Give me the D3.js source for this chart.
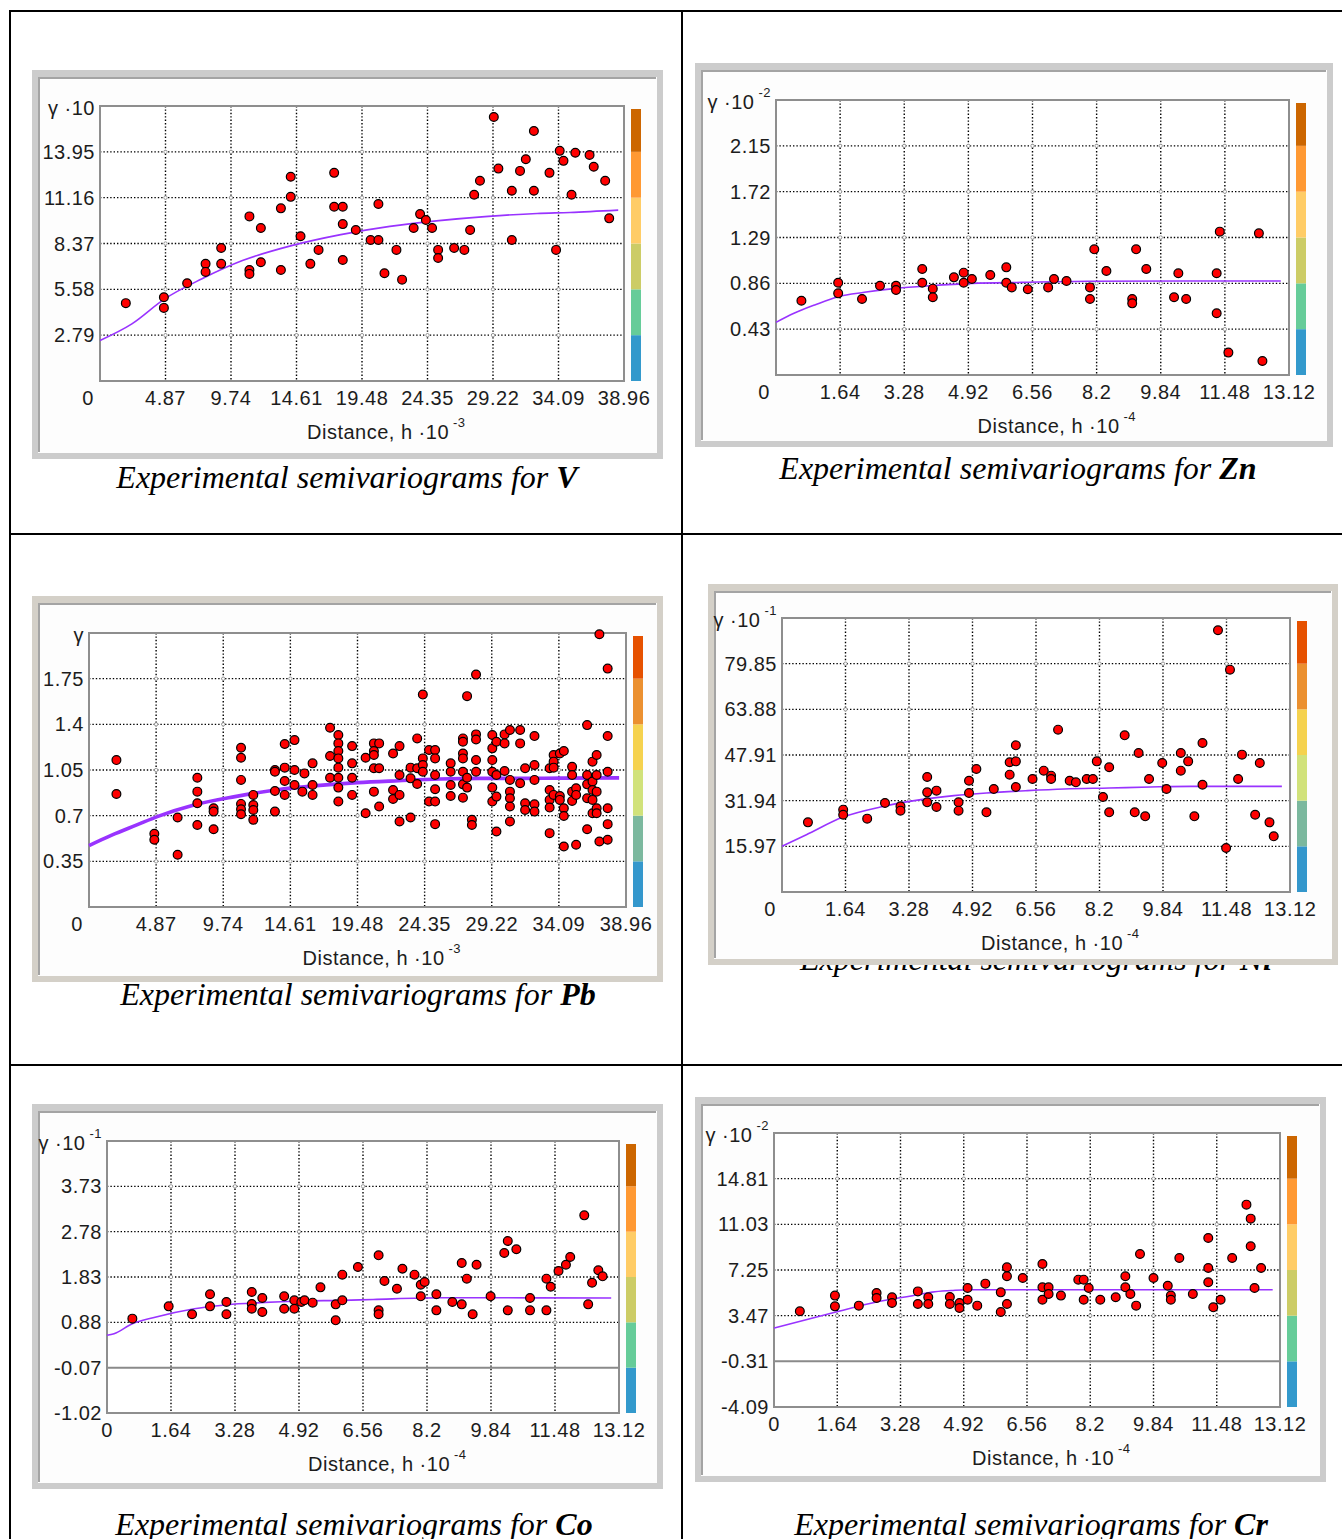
<!DOCTYPE html>
<html>
<head>
<meta charset="utf-8">
<script src="https://cdn.jsdelivr.net/npm/d3@7/dist/d3.min.js"></script>
<style>
  body { margin: 0; background: #fff; }
  svg text { font-family: "Liberation Sans", Arial, sans-serif; }
</style>
</head>
<body>
<svg id="chart"></svg>
<script>
// ---- tick labels ----
const xTicksLong = [0, 4.87, 9.74, 14.61, 19.48, 24.35, 29.22, 34.09, 38.96];
const xTicksShort = [0, 1.64, 3.28, 4.92, 6.56, 8.2, 9.84, 11.48, 13.12];

const vYTicks = [0, 2.79, 5.58, 8.37, 11.16, 13.95];
const znYTicks = [0, 0.43, 0.86, 1.29, 1.72, 2.15];
const pbYTicks = [0, 0.35, 0.7, 1.05, 1.4, 1.75];
const niYTicks = [0, 15.97, 31.94, 47.91, 63.88, 79.85];
const coYTicks = [-1.02, -0.07, 0.88, 1.83, 2.78, 3.73];
const crYTicks = [-4.09, -0.31, 3.47, 7.25, 11.03, 14.81];

// value at the top edge (where the gamma label sits)
const yTops = { V: 16.74, Zn: 2.58, Pb: 2.1, Ni: 95.82, Co: 4.68, Cr: 18.59 };

// ---- experimental semivariogram points [h, gamma] ----
const vPoints = [
  [1.92,4.74],[4.75,5.10],[4.75,4.45],[6.48,5.95],[7.85,7.13],[7.85,6.64],[9.01,8.10],[9.01,7.13],
  [11.11,10.02],[11.11,6.76],[11.11,6.52],[11.96,9.31],[11.96,7.23],[13.45,10.51],[13.45,6.76],
  [14.18,12.43],[14.18,11.21],[14.91,8.81],[16.25,7.98],[15.64,7.13],[17.41,12.67],[17.41,10.61],
  [18.05,10.61],[18.05,9.55],[18.05,7.37],[19.02,9.19],[20.12,8.58],[20.70,8.58],[20.70,10.77],
  [21.15,6.56],[22.04,7.98],[22.46,6.17],[23.32,9.31],[23.80,10.16],[24.23,9.80],[24.69,9.31],
  [25.14,7.98],[25.14,7.49],[26.33,8.10],[27.09,7.98],[27.52,9.19],[27.82,11.34],[28.25,12.19],
  [29.28,16.07],[29.62,12.93],[30.62,11.58],[30.62,8.58],[31.23,12.79],[31.66,13.50],[32.26,15.22],
  [32.26,11.58],[33.42,12.67],[33.91,7.98],[34.18,14.01],[34.46,13.40],[35.06,11.34],[35.34,13.89],
  [36.40,13.76],[36.71,13.04],[37.56,12.19],[37.86,9.90]
];
const znPoints = [
  [0.65,0.697],[1.59,0.866],[1.59,0.766],[2.20,0.713],[2.66,0.838],[3.07,0.838],[3.07,0.797],
  [3.74,0.994],[3.74,0.866],[4.01,0.810],[4.01,0.729],[4.55,0.916],[4.80,0.960],[4.80,0.866],
  [5.01,0.901],[5.48,0.938],[5.89,1.010],[5.89,0.866],[6.03,0.822],[6.44,0.804],[6.96,0.822],
  [7.11,0.901],[7.43,0.882],[8.03,0.822],[8.03,0.713],[8.14,1.179],[8.45,0.976],[9.11,0.713],
  [9.11,0.672],[9.21,1.179],[9.47,0.994],[10.18,0.729],[10.29,0.954],[10.49,0.713],[11.27,0.954],
  [11.27,0.579],[11.35,1.345],[11.57,0.210],[12.35,1.329],[12.44,0.131]
];
const pbPoints = [
  [1.99,1.126],[1.99,0.866],[4.74,0.561],[4.74,0.515],[6.43,0.686],[6.43,0.400],
  [7.86,0.991],[7.86,0.884],[7.86,0.795],[7.86,0.629],[9.04,0.757],[9.04,0.731],[9.04,0.596],
  [11.03,1.221],[11.03,1.144],[11.03,0.974],[11.03,0.790],[11.03,0.749],[11.03,0.711],
  [11.92,0.859],[11.92,0.782],[11.92,0.744],[11.92,0.668],
  [13.49,1.050],[13.49,1.037],[13.49,0.889],[13.49,0.731],
  [14.20,1.249],[14.20,1.068],[14.20,0.966],[14.20,0.859],
  [14.91,1.279],[14.91,1.050],[14.91,0.935],[15.63,1.024],[15.48,0.884],
  [16.22,1.101],[16.22,0.935],[16.22,0.859],[17.49,1.374],[17.49,1.157],[17.49,0.991],
  [18.09,1.318],[18.09,1.254],[18.09,1.195],[18.09,1.139],[18.09,1.068],[18.09,0.991],[18.09,0.915],[18.09,0.808],
  [19.09,1.233],[19.09,1.101],[19.09,0.991],[19.09,0.859],[20.07,1.144],[20.07,0.719],
  [20.67,1.254],[20.67,1.195],[20.67,1.165],[20.67,1.063],[20.67,0.884],
  [21.05,1.254],[21.05,1.063],[21.05,0.770],[22.06,1.177],[22.06,0.897],[22.06,0.828],
  [22.53,1.233],[22.53,1.012],[22.53,0.859],[22.53,0.655],[23.33,1.068],[23.33,0.986],[23.33,0.686],
  [23.81,1.292],[23.81,1.063],[23.81,0.943],[24.22,1.628],[24.22,1.139],[24.22,1.088],[24.22,1.037],
  [24.67,1.203],[24.67,0.808],
  [25.11,1.203],[25.11,1.139],[25.11,1.012],[25.11,0.902],[25.11,0.808],[25.11,0.635],
  [26.24,1.101],[26.24,1.037],[26.24,0.935],[26.24,0.851],
  [27.13,1.292],[27.13,1.267],[27.13,1.177],[27.13,1.139],[27.13,1.037],[27.13,0.940],[27.13,0.838],
  [27.43,1.616],[27.43,0.991],[27.43,0.915],[27.78,0.668],[27.78,0.629],
  [28.08,1.781],[28.08,1.323],[28.08,1.284],[28.08,1.126],[28.08,1.037],
  [29.26,1.318],[29.26,1.216],[29.26,1.126],[29.26,1.037],[29.26,0.915],[29.26,0.808],
  [29.56,1.267],[29.56,1.012],[29.56,0.846],[29.56,0.579],[30.15,1.323],[30.15,1.254],[30.15,1.042],
  [30.54,1.356],[30.54,0.974],[30.54,0.884],[30.54,0.833],[30.54,0.770],[30.54,0.655],
  [31.28,1.356],[31.28,1.254],[31.28,0.948],[31.64,1.063],[31.64,0.795],[31.64,0.744],
  [32.32,1.310],[32.32,1.088],[32.32,0.974],[32.32,0.787],[32.32,0.731],
  [33.42,1.063],[33.42,0.897],[33.42,0.821],[33.42,0.762],[33.42,0.566],
  [33.71,1.165],[33.71,1.114],[33.71,1.068],[33.71,0.859],[34.16,1.177],[34.16,0.851],[34.16,0.821],
  [34.45,1.195],[34.45,0.757],[34.45,0.698],[34.45,0.464],
  [35.05,1.075],[35.05,1.012],[35.05,0.884],[35.05,0.813],[35.34,0.910],[35.34,0.859],[35.34,0.477],
  [36.14,1.394],[36.14,1.012],[36.14,0.940],[36.14,0.833],[36.14,0.596],
  [36.53,1.114],[36.53,0.961],[36.53,0.897],[36.53,0.821],[36.53,0.719],
  [36.83,1.165],[36.83,1.012],[36.83,0.884],[36.83,0.757],[36.83,0.719],
  [37.03,2.09],[37.03,0.502],
  [37.63,1.827],[37.63,1.310],[37.63,1.037],[37.63,0.757],[37.63,0.635],[37.63,0.515]
];
const niPoints = [
  [0.67,24.36],[1.58,28.79],[1.58,27.04],[2.20,25.65],[2.66,31.12],[3.06,29.96],[3.06,28.44],
  [3.75,40.22],[3.75,34.85],[3.75,31.36],[3.99,35.44],[3.99,29.73],[4.56,31.36],[4.56,28.44],
  [4.83,38.93],[4.83,34.62],[5.02,43.01],[5.28,27.86],[5.47,36.02],[5.88,45.35],[5.88,41.03],
  [6.04,51.29],[6.04,45.69],[6.04,36.72],[6.47,39.52],[6.76,42.43],[6.95,40.68],[6.95,39.52],
  [7.13,56.77],[7.43,38.93],[7.59,38.35],[7.87,39.52],[8.03,39.52],[8.13,45.69],[8.29,33.22],
  [8.45,43.60],[8.45,27.86],[8.85,54.79],[9.11,27.86],[9.21,48.61],[9.38,26.46],[9.48,39.52],
  [9.82,45.11],[9.93,36.02],[10.30,48.61],[10.30,42.43],[10.49,45.69],[10.65,26.46],[10.86,52.11],
  [10.86,37.53],[11.26,91.51],[11.47,15.39],[11.57,77.75],[11.78,39.52],[11.88,48.03],[12.22,27.04],
  [12.34,45.11],[12.59,24.36],[12.70,19.47]
];
const coPoints = [
  [0.65,0.957],[1.58,1.215],[2.18,1.048],[2.64,1.467],[2.64,1.215],[3.06,1.306],[3.06,1.048],
  [3.71,1.516],[3.71,1.264],[3.71,1.166],[3.98,1.390],[3.98,1.096],[4.54,1.425],[4.54,1.166],
  [4.80,1.341],[4.80,1.166],[4.98,1.306],[5.06,1.341],[5.27,1.292],[5.47,1.613],[5.86,1.257],
  [5.86,0.922],[6.03,1.341],[6.03,1.879],[6.43,2.039],[6.96,2.284],[6.96,1.131],[6.96,1.048],
  [7.11,1.746],[7.43,1.585],[7.57,2.004],[7.88,1.879],[8.04,1.669],[8.04,1.425],[8.14,1.725],
  [8.44,1.467],[8.44,1.131],[8.85,1.306],[9.09,1.257],[9.09,2.123],[9.22,1.795],[9.37,1.048],
  [9.47,2.088],[9.83,1.425],[10.18,2.333],[10.27,2.584],[10.27,1.131],[10.49,2.410],[10.84,1.390],
  [10.84,1.131],[11.26,1.795],[11.26,1.131],[11.37,1.627],[11.57,1.956],[11.76,2.088],[11.87,2.249],
  [12.23,3.122],[12.33,1.257],[12.43,1.711],[12.59,1.970],[12.70,1.844]
];
const crPoints = [
  [0.67,3.83],[1.58,5.13],[1.58,4.24],[2.20,4.30],[2.66,5.35],[2.66,4.93],[3.06,4.99],[3.06,4.52],
  [3.73,5.48],[3.73,4.44],[4.00,4.99],[4.00,4.44],[4.56,5.02],[4.56,4.44],[4.81,4.52],[4.81,4.10],
  [5.02,5.76],[5.02,4.79],[5.27,4.30],[5.48,6.12],[5.88,5.40],[5.88,3.77],[6.04,7.47],[6.04,6.73],
  [6.04,4.44],[6.45,6.59],[6.96,7.75],[6.96,5.82],[6.96,4.79],[7.12,5.82],[7.12,5.26],[7.44,5.13],
  [7.89,6.45],[8.03,6.45],[8.03,4.79],[8.16,5.76],[8.46,4.79],[8.86,4.99],[9.11,6.73],[9.11,5.82],
  [9.24,5.26],[9.39,4.30],[9.49,8.57],[9.84,6.59],[10.21,5.95],[10.29,5.13],[10.29,4.79],[10.51,8.24],
  [10.86,5.26],[11.26,9.90],[11.26,7.42],[11.26,6.23],[11.39,4.16],[11.58,4.79],[11.88,8.24],
  [12.25,12.66],[12.36,11.50],[12.36,9.21],[12.46,5.76],[12.63,7.42]
];

// ---- fitted model curves [h, gamma] ----
const vCurve = [[0,2.47],[2.37,3.48],[4.81,5.0],[7.55,6.21],[10.59,7.33],[14.24,8.24],[17.90,8.91],
  [21.55,9.41],[25.2,9.76],[28.86,10.02],[32.5,10.2],[34.94,10.26],[38.53,10.40]];
const znCurve = [[0,0.494],[0.46,0.579],[0.99,0.657],[1.59,0.735],[2.26,0.776],[3.07,0.813],[3.95,0.838],
  [5.01,0.860],[6.28,0.869],[7.98,0.879],[10.52,0.882],[12.91,0.882]];
const pbCurve = [[0,0.471],[1.69,0.553],[3.47,0.629],[4.95,0.693],[7.62,0.782],[10.59,0.846],[13.55,0.897],
  [16.52,0.930],[19.48,0.953],[22.45,0.968],[25.41,0.981],[28.38,0.986],[31.34,0.986],[34.31,0.988],[38.46,0.99]];
const niCurve = [[0,15.97],[0.63,20.05],[1.58,26.23],[2.54,29.73],[3.59,32.29],[4.44,33.69],[5.28,34.62],
  [6.34,35.44],[7.29,36.02],[8.45,36.37],[9.51,36.72],[10.56,36.95],[12.91,36.95]];
const coCurve = [[0,0.608],[0.18,0.643],[0.65,0.852],[1.18,0.978],[2.24,1.166],[3.08,1.250],[3.92,1.292],
  [4.98,1.327],[6.03,1.341],[6.82,1.36],[8.56,1.395],[12.92,1.39]];
const crCurve = [[0,2.45],[1.58,3.75],[2.66,4.6],[3.73,5.2],[4.1,5.42],[4.6,5.55],[5.0,5.62],[8.57,5.62],[12.93,5.62]];

// ---- texts ----
const elements = ["V", "Zn", "Pb", "Ni", "Co", "Cr"];
const yLabels = { V: ["γ ·10", ""], Zn: ["γ ·10", "-2"], Pb: ["γ", ""], Ni: ["γ ·10", "-1"], Co: ["γ ·10", "-1"], Cr: ["γ ·10", "-2"] };
const xExponents = { V: "-3", Zn: "-4", Pb: "-3", Ni: "-4", Co: "-4", Cr: "-4" };

// ---- colour bars (bottom to top) ----
const paletteA = ["#3399cc", "#66cc99", "#cccc66", "#ffcc66", "#ff9933", "#cc6600"];
const paletteB = ["#3497cc", "#7bb89e", "#d1e27a", "#f5d24e", "#eb9030", "#e65100"];

const width = 1342, height = 1539;
const svg = d3.select("#chart").attr("width", width).attr("height", height);

// layout: frame [x0,y0,x1,y1], plot [x0,y0,x1,y1], bar x, caption [cx, baseline]
const panels = [
  { el: "V",  points: vPoints,  curve: vCurve,  xTicks: xTicksLong,  yTicks: vYTicks,
    frame: [32, 70, 663, 459],   plot: [100, 106, 624, 381],  bar: 631,  frameColor: "#cccccc", palette: paletteA, lw: 1.6, caption: [347, 488] },
  { el: "Zn", points: znPoints, curve: znCurve, xTicks: xTicksShort, yTicks: znYTicks,
    frame: [695, 63, 1333, 447], plot: [776, 100, 1289, 375], bar: 1296, frameColor: "#cccccc", palette: paletteA, lw: 1.6, caption: [1018, 479] },
  { el: "Pb", points: pbPoints, curve: pbCurve, xTicks: xTicksLong,  yTicks: pbYTicks,
    frame: [32, 596, 663, 982],  plot: [89, 633, 626, 907],   bar: 633,  frameColor: "#d4d0c8", palette: paletteB, lw: 3.6, caption: [358, 1005] },
  { el: "Ni", points: niPoints, curve: niCurve, xTicks: xTicksShort, yTicks: niYTicks,
    frame: [708, 584, 1338, 965], plot: [782, 618, 1290, 892], bar: 1297, frameColor: "#d4d0c8", palette: paletteB, lw: 1.6, caption: [1036, 970] },
  { el: "Co", points: coPoints, curve: coCurve, xTicks: xTicksShort, yTicks: coYTicks,
    frame: [32, 1104, 663, 1489], plot: [107, 1141, 619, 1413], bar: 626, frameColor: "#cccccc", palette: paletteA, lw: 1.6, caption: [354, 1535] },
  { el: "Cr", points: crPoints, curve: crCurve, xTicks: xTicksShort, yTicks: crYTicks,
    frame: [695, 1097, 1326, 1482], plot: [774, 1133, 1280, 1407], bar: 1287, frameColor: "#cccccc", palette: paletteA, lw: 1.6, caption: [1031, 1535] }
];

// table lines
const table = svg.append("g").attr("stroke", "#000").attr("stroke-width", 2);
table.append("line").attr("x1", 9).attr("x2", width).attr("y1", 11).attr("y2", 11);
table.append("line").attr("x1", 10).attr("x2", 10).attr("y1", 10).attr("y2", height);
table.append("line").attr("x1", 682).attr("x2", 682).attr("y1", 10).attr("y2", height);
table.append("line").attr("x1", 9).attr("x2", width).attr("y1", 534).attr("y2", 534);
table.append("line").attr("x1", 9).attr("x2", width).attr("y1", 1065).attr("y2", 1065);

// captions first (the Ni one is partly hidden behind its frame)
panels.forEach(p => {
  const t = svg.append("text")
    .attr("x", p.caption[0]).attr("y", p.caption[1])
    .attr("text-anchor", "middle")
    .style("font-family", "'Liberation Serif', 'Times New Roman', serif")
    .style("font-style", "italic")
    .style("font-size", "32px")
    .attr("fill", "#000");
  t.append("tspan").text("Experimental semivariograms for ");
  t.append("tspan").style("font-weight", "bold").text(p.el);
});

panels.forEach(drawPanel);

function drawPanel(p) {
  const g = svg.append("g");
  const [fx0, fy0, fx1, fy1] = p.frame;
  const [px0, py0, px1, py1] = p.plot;
  const yTop = yTops[p.el];

  // window frame
  g.append("rect").attr("x", fx0).attr("y", fy0).attr("width", fx1 - fx0).attr("height", fy1 - fy0)
    .attr("fill", p.frameColor);
  g.append("rect").attr("x", fx0 + 6).attr("y", fy0 + 7).attr("width", fx1 - fx0 - 12).attr("height", fy1 - fy0 - 13)
    .attr("fill", "#fdfdfd");
  g.append("path").attr("d", `M${fx0 + 7},${fy1 - 7}V${fy0 + 8}H${fx1 - 7}`)
    .attr("fill", "none").attr("stroke", "#a4a4a4").attr("stroke-width", 2);

  const x = d3.scaleLinear().domain([0, p.xTicks[p.xTicks.length - 1]]).range([px0, px1]);
  const y = d3.scaleLinear().domain([p.yTicks[0], yTop]).range([py1, py0]);

  g.append("rect").attr("x", px0).attr("y", py0).attr("width", px1 - px0).attr("height", py1 - py0)
    .attr("fill", "#fff");

  const innerX = p.xTicks.slice(1, -1);
  const innerY = p.yTicks.slice(1);
  const solidY = p.yTicks[0] < 0 ? p.yTicks[1] : null;

  // grid
  g.selectAll(".vg").data(innerX).enter().append("line")
    .attr("x1", d => x(d)).attr("x2", d => x(d)).attr("y1", py0).attr("y2", py1)
    .attr("stroke", "#000").attr("stroke-width", 1.4).attr("stroke-dasharray", "1.4,2");
  g.selectAll(".hg").data(innerY).enter().append("line")
    .attr("x1", px0).attr("x2", px1).attr("y1", d => y(d)).attr("y2", d => y(d))
    .attr("stroke", d => d === solidY ? "#8a8a8a" : "#000")
    .attr("stroke-width", d => d === solidY ? 2 : 1.4)
    .attr("stroke-dasharray", d => d === solidY ? null : "1.4,2");
  const crossings = [];
  innerX.forEach(a => innerY.forEach(b => { if (b !== solidY) crossings.push([a, b]); }));
  g.selectAll(".cr").data(crossings).enter().append("circle")
    .attr("cx", d => x(d[0])).attr("cy", d => y(d[1])).attr("r", 1.7)
    .attr("fill", "#fff").attr("stroke", "#888").attr("stroke-width", 0.8);

  // plot border
  g.append("rect").attr("x", px0).attr("y", py0).attr("width", px1 - px0).attr("height", py1 - py0)
    .attr("fill", "none").attr("stroke", "#8e8e8e").attr("stroke-width", 2);

  // colour bar
  const bounds = p.yTicks.concat([yTop]);
  const segs = p.palette.map((c, i) => ({ c, lo: bounds[i], hi: bounds[i + 1] }));
  g.selectAll(".bar").data(segs).enter().append("rect")
    .attr("x", p.bar).attr("width", 10)
    .attr("y", (d, i) => i === segs.length - 1 ? y(d.hi) + 3 : y(d.hi))
    .attr("height", (d, i) => y(d.lo) - y(d.hi) - (i === segs.length - 1 ? 3 : 0))
    .attr("fill", d => d.c);

  // model curve
  const line = d3.line().x(d => x(d[0])).y(d => y(d[1])).curve(d3.curveMonotoneX);
  g.append("path").datum(p.curve).attr("d", line)
    .attr("fill", "none").attr("stroke", "#9933ff").attr("stroke-width", p.lw);

  // points
  g.selectAll(".pt").data(p.points).enter().append("circle")
    .attr("cx", d => x(d[0])).attr("cy", d => y(d[1])).attr("r", 4.4)
    .attr("fill", "#ff0000").attr("stroke", "#000").attr("stroke-width", 1.2);

  const tickStyle = s => s.style("font-size", "20px").style("letter-spacing", "0.5px").attr("fill", "#1c1c1c");

  // x tick labels
  const zeroCorner = p.yTicks[0] === 0;
  g.selectAll(".xl").data(p.xTicks).enter().append("text")
    .attr("x", (d, i) => i === 0 && zeroCorner ? x(d) - 12 : x(d))
    .attr("y", py1 + 24)
    .attr("text-anchor", "middle")
    .call(tickStyle)
    .text(d => d);

  // y tick labels
  const yShown = zeroCorner ? p.yTicks.slice(1) : p.yTicks;
  g.selectAll(".yl").data(yShown).enter().append("text")
    .attr("x", px0 - 5).attr("y", d => y(d) + 7)
    .attr("text-anchor", "end")
    .call(tickStyle)
    .text(d => d);

  // gamma label at the top
  const yl = g.append("text").attr("x", px0 - 5).attr("y", py0 + 9)
    .attr("text-anchor", "end").call(tickStyle);
  yl.append("tspan").text(yLabels[p.el][0]);
  if (yLabels[p.el][1]) {
    yl.append("tspan").attr("dx", 4).attr("dy", -12).style("font-size", "13px").text(yLabels[p.el][1]);
  }

  // x axis title
  const cx = (px0 + px1) / 2;
  const xl = g.append("text").attr("x", cx - 55).attr("y", py1 + 58).call(tickStyle);
  xl.append("tspan").text("Distance, h ·10");
  xl.append("tspan").attr("dx", 4).attr("dy", -12).style("font-size", "13px").text(xExponents[p.el]);
}
</script>
</body>
</html>
